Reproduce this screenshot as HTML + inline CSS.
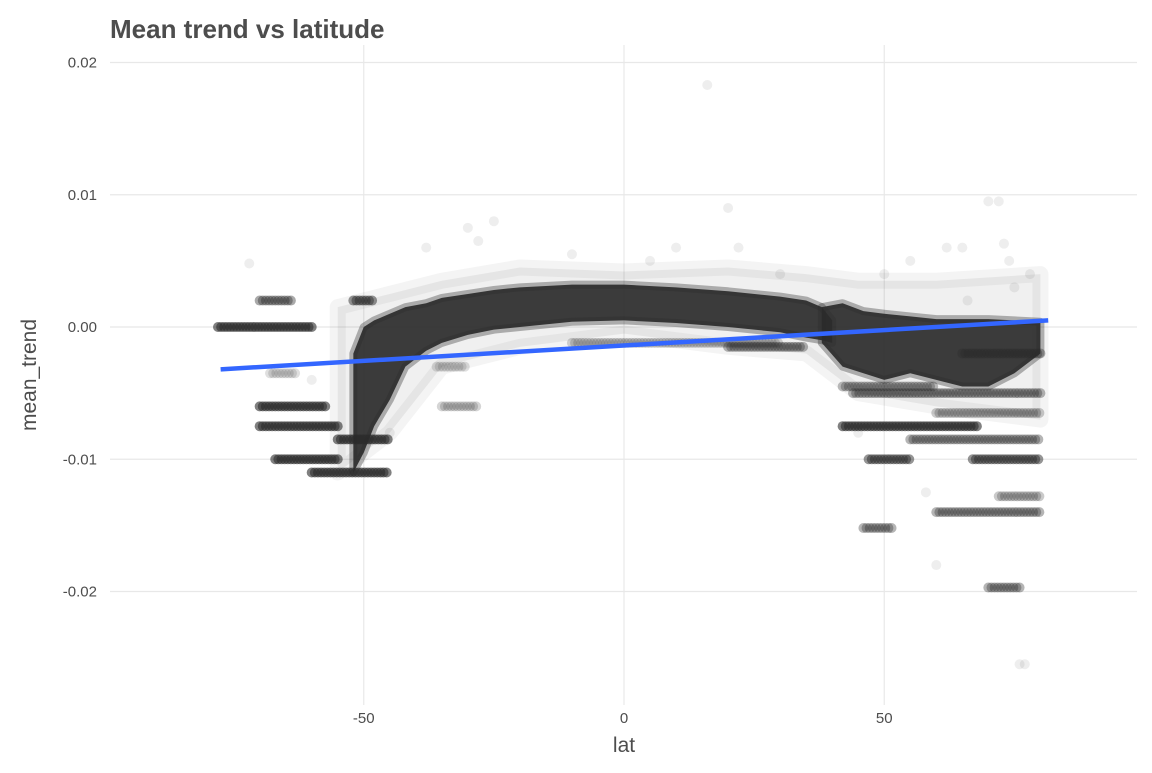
<!DOCTYPE html>
<html><head><meta charset="utf-8">
<style>
body{margin:0;background:#fff;font-family:"Liberation Sans",sans-serif;}
svg text{font-family:"Liberation Sans",sans-serif;}
</style></head>
<body>
<svg id="chart" width="1152" height="768" xmlns="http://www.w3.org/2000/svg">
<text x="110" y="38" font-size="26" font-weight="bold" fill="#4d4d4d">Mean trend vs latitude</text>
<g id="grid"></g>
<g id="pts"></g>
<g id="fit"></g>
<g id="axes"></g>
<text x="624" y="752" font-size="21" fill="#4d4d4d" text-anchor="middle">lat</text>
<text transform="translate(36,375) rotate(-90)" font-size="21" fill="#4d4d4d" text-anchor="middle">mean_trend</text>
</svg>
<script>
const xTicks=[-50,0,50];
const yTicks=[0.02,0.01,0.0,-0.01,-0.02];
const yTickLabels=["0.02","0.01","0.00","-0.01","-0.02"];
// dense core band
const bandLat=[-52,-50,-48,-45,-42,-38,-35,-30,-25,-20,-10,0,10,20,30,35,38,40];
const bandHi=[-0.002,0.0,0.0005,0.001,0.0015,0.0018,0.0022,0.0025,0.0028,0.003,0.0032,0.0032,0.003,0.0027,0.0023,0.002,0.0015,0.0005];
const bandLo=[-0.011,-0.0095,-0.0075,-0.0055,-0.003,-0.0018,-0.0012,-0.0006,-0.0002,0.0,0.0004,0.0005,0.0003,0.0,-0.0004,-0.0008,-0.001,-0.0012];
// haze around core
const hazeLat=[-55,-45,-35,-20,0,20,35,45,60,80,80,60,45,35,20,0,-20,-35,-45,-55];
const hazeVal=[0.0015,0.0025,0.0035,0.0045,0.0042,0.0045,0.004,0.0035,0.0035,0.004,-0.007,-0.006,-0.005,-0.002,-0.0015,-0.0005,-0.0015,-0.003,-0.008,-0.011];
// right dense region
const rLat=[38,42,46,50,55,60,65,70,75,80];
const rHi=[0.0015,0.0018,0.0012,0.001,0.0008,0.0006,0.0006,0.0006,0.0005,0.0004];
const rLo=[-0.0012,-0.003,-0.0035,-0.004,-0.0035,-0.004,-0.0045,-0.0045,-0.0035,-0.002];
// horizontal stripes: start lat, end lat, value
const stripeStart=[-78,-70,-70,-67,-60,-55,-52,-70,-68,-35,42,47,67,46,60,70,72,44,55,60,42,65,-36,20,-10];
const stripeEnd=[-60,-57,-55,-55,-45,-45,-48,-64,-63,-28,68,55,80,52,80,76,80,80,80,80,60,80,-30,35,30];
const stripeVal=[0.0,-0.006,-0.0075,-0.01,-0.011,-0.0085,0.002,0.002,-0.0035,-0.006,-0.0075,-0.01,-0.01,-0.0152,-0.014,-0.0197,-0.0128,-0.005,-0.0085,-0.0065,-0.0045,-0.002,-0.003,-0.0015,-0.0012];
const stripeAlpha=[0.6,0.6,0.6,0.6,0.6,0.6,0.5,0.4,0.15,0.2,0.6,0.5,0.5,0.35,0.35,0.35,0.25,0.35,0.35,0.25,0.3,0.35,0.15,0.35,0.2];
// sparse outliers
const outLat=[16,-30,-25,-28,-10,20,22,55,62,70,72,73,74,76,77,65,60,58,-38,-45,-60,-72,5,10,30,45,50,66,75,78];
const outVal=[0.0183,0.0075,0.008,0.0065,0.0055,0.009,0.006,0.005,0.006,0.0095,0.0095,0.0063,0.005,-0.0255,-0.0255,0.006,-0.018,-0.0125,0.006,-0.008,-0.004,0.0048,0.005,0.006,0.004,-0.008,0.004,0.002,0.003,0.004];
const fitLat=[-77.5,81.5];
const fitVal=[-0.0032,0.0005];

const X=v=>624+v*5.205, Y=v=>327-v*13225;
const NS="http://www.w3.org/2000/svg";
function mk(parent,tag,a){const e=document.createElementNS(NS,tag);for(const k in a)e.setAttribute(k,a[k]);document.getElementById(parent).appendChild(e);return e;}
xTicks.forEach(v=>{const l=mk('grid','line',{x1:X(v),x2:X(v),y1:45,y2:705,stroke:'#e8e8e8','stroke-width':1.2});
const t=mk('axes','text',{x:X(v),y:723,'font-size':15,fill:'#4d4d4d','text-anchor':'middle'});t.textContent=v;});
yTicks.forEach((v,i)=>{const l=mk('grid','line',{x1:110,x2:1137,y1:Y(v),y2:Y(v),stroke:'#e8e8e8','stroke-width':1.2});
const t=mk('axes','text',{x:97,y:Y(v)+5,'font-size':15,fill:'#4d4d4d','text-anchor':'end'});t.textContent=yTickLabels[i];});
const hz=mk('pts','polygon',{points:hazeLat.map((a,i)=>X(a)+','+Y(hazeVal[i])).join(' '),fill:'#2b2b2b','fill-opacity':0.07,stroke:'#2b2b2b','stroke-opacity':0.05,'stroke-width':16,'stroke-linejoin':'round'});

function band(lat,hi,lo,name){let p=lat.map((a,i)=>X(a)+','+Y(hi[i]));for(let i=lat.length-1;i>=0;i--)p.push(X(lat[i])+','+Y(lo[i]));
const e=mk('pts','polygon',{points:p.join(' '),fill:'#2b2b2b','fill-opacity':0.92,stroke:'#2b2b2b','stroke-opacity':0.35,'stroke-width':8,'stroke-linejoin':'round'});
}
band(bandLat,bandHi,bandLo,'dense-core-band');
band(rLat,rHi,rLo,'dense-north-band');
stripeStart.forEach((s,i)=>{for(let a=s;a<=stripeEnd[i];a+=0.6){const c=mk('pts','circle',{cx:X(a),cy:Y(stripeVal[i]),r:5,fill:'#2b2b2b','fill-opacity':stripeAlpha[i]});
}});
outLat.forEach((a,i)=>{const c=mk('pts','circle',{cx:X(a),cy:Y(outVal[i]),r:5,fill:'#2b2b2b','fill-opacity':0.08});
});
const f=mk('fit','line',{x1:X(fitLat[0]),y1:Y(fitVal[0]),x2:X(fitLat[1]),y2:Y(fitVal[1]),stroke:'#3366ff','stroke-width':4.5});

</script>
</body></html>
